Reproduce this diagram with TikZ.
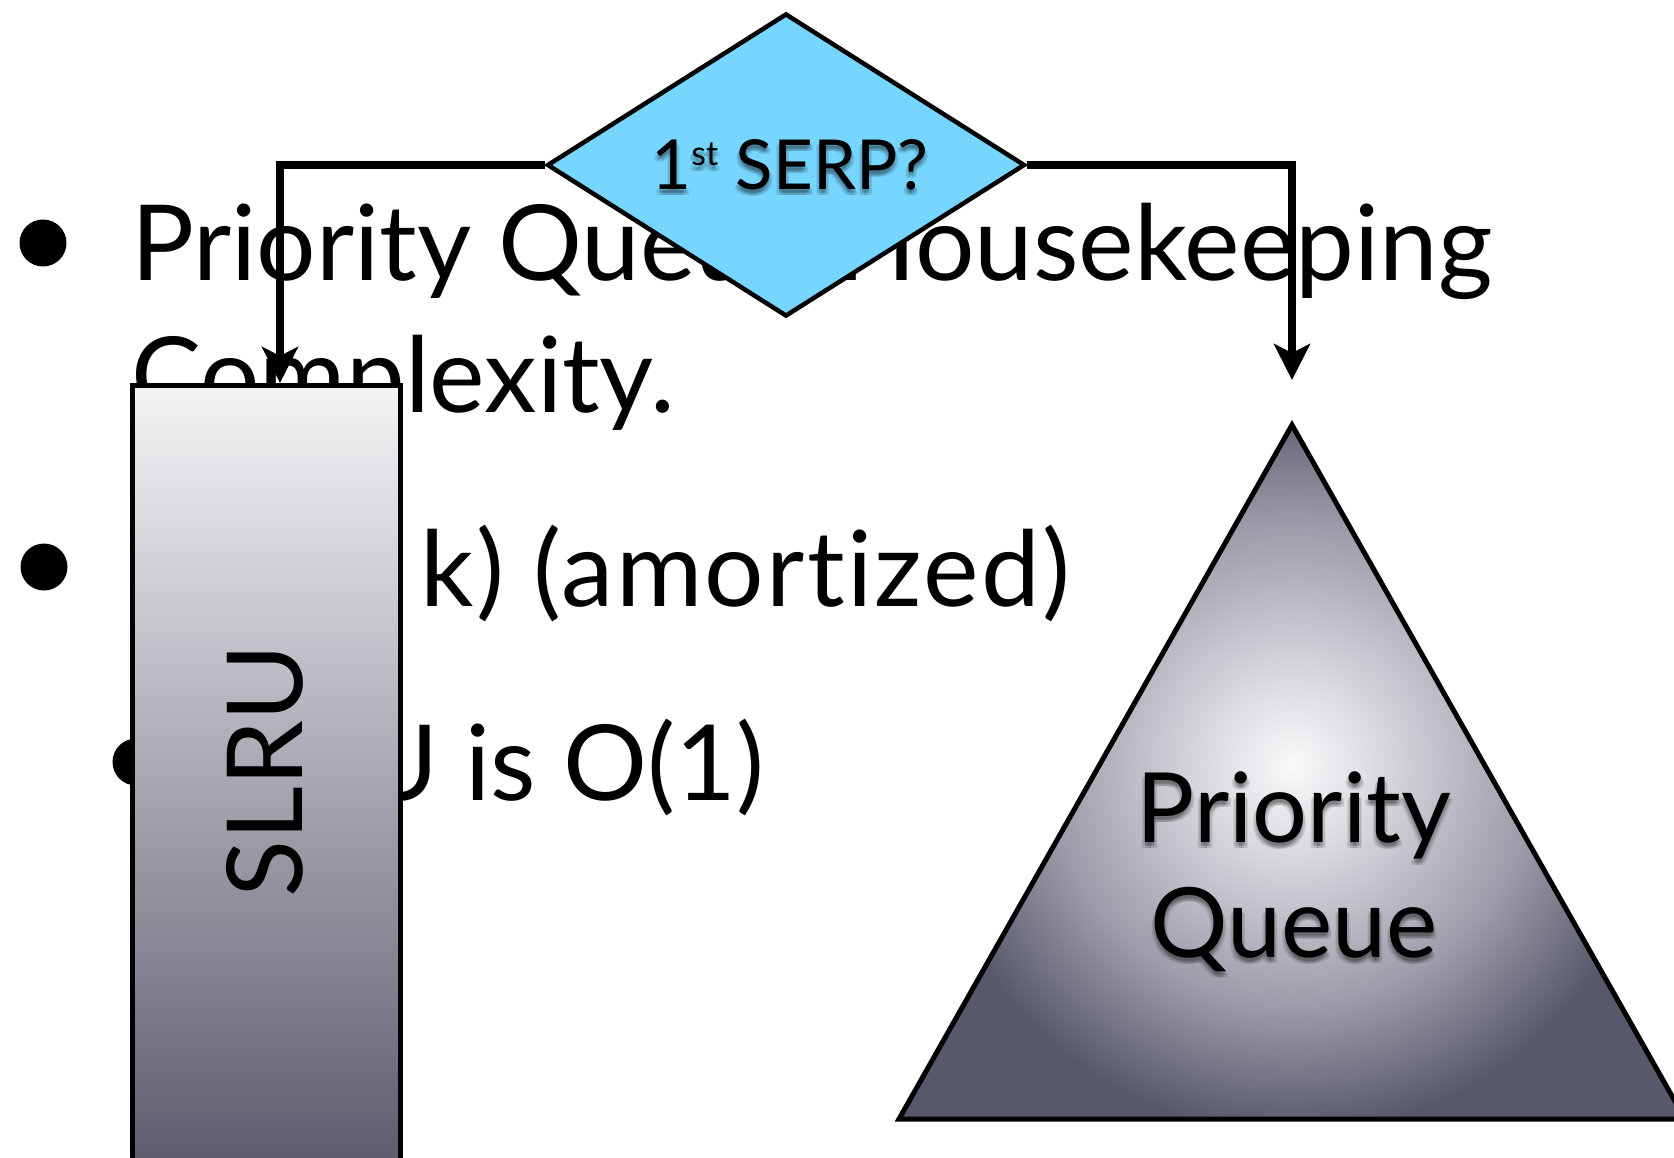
\documentclass[tikz,border=0pt]{standalone}
\usepackage{fontspec}
\setmainfont{Lato}[Ligatures=NoCommon]
\usetikzlibrary{arrows.meta,shapes.geometric,calc}
\definecolor{serpblue}{HTML}{76D6FF}
\definecolor{slrutop}{HTML}{F4F4F6}
\definecolor{slrubot}{HTML}{5A5A6D}
\definecolor{pqlight}{HTML}{FAFAFC}
\definecolor{pqmida}{HTML}{C6C6CE}
\definecolor{pqmidb}{HTML}{9C9CAA}
\definecolor{pqdark}{HTML}{58586D}
\pgfdeclareradialshading{pqshade}{\pgfpoint{0bp}{0bp}}{color(0bp)=(pqlight); color(8.5bp)=(pqmida); color(15bp)=(pqmidb); color(23bp)=(pqdark); color(50bp)=(pqdark)}
\newcommand\serptext{1\raisebox{24pt}{\fontsize{34}{34}\selectfont st} SERP?}
\begin{document}
\begin{tikzpicture}[x=1pt,y=-1pt,
  body/.style={inner sep=0pt, anchor=base west, font=\fontsize{105}{126}\selectfont},
  dot/.style={circle, fill=black, inner sep=0pt, minimum size=47pt},
  conn/.style={line width=8pt, line join=miter, -{Stealth[length=36pt,width=36pt,inset=9pt]}},
  serpdia/.style={diamond, aspect=1.58, draw=black, line width=4.5pt, fill=serpblue, inner sep=0pt, minimum width=478pt, minimum height=303pt},
  serpfont/.style={inner sep=0pt, anchor=base, font=\fontsize{69}{80}\selectfont},
  slrubox/.style={draw=black, line width=5pt, top color=slrutop, bottom color=slrubot, minimum width=268pt, minimum height=790pt, inner sep=0pt, anchor=north},
  slrulabel/.style={inner sep=0pt, rotate=90, font=\fontsize{105}{126}\selectfont},
  pqfont/.style={inner sep=0pt, anchor=base, font=\fontsize{97}{115}\selectfont},
  shadow/.style={text=black, opacity=0.09}]
\useasboundingbox (0,0) rectangle (1674,1158);
\clip (0,0) rectangle (1674,1158);
\fill[white] (0,0) rectangle (1674,1158);

% bullets and body text
\node[dot] (b1) at (43,243) {};
\node[dot] (b2) at (44,567) {};
\node[dot] (b3) at (136,762) {};
\node[body] (t1) at (131,281) {Priority Queue Housekeeping};
\node[body] (t2) at (131,413) {Complexity.};
\node[body] (t3) at (131,606) {\addfontfeature{LetterSpace=2.2}O(log k) (amortized)};
\node[body] (t4) at (185,800) {SLRU is O(1)};

% decision diamond
\node[serpdia] (dia) at (786,165) {};
\foreach \dx/\dy [count=\i] in {0/3, 2/4, -2/4, 0/6, 3/6, -3/6}
  \node[serpfont, shadow] (serpsh\i) at ({790+\dx},{190+\dy}) {\serptext};
\node[serpfont] (serp) at (790,190) {\serptext};

% SLRU box
\node[slrubox] (slru) at (266,383) {};
\node[slrulabel] (slrut) at (265,771) {SLRU};

% priority queue triangle
\coordinate (apex) at (1292,425);
\coordinate (bl) at (899,1119);
\coordinate (br) at (1685,1119);
\begin{scope}
  \clip (apex) -- (bl) -- (br) -- cycle;
  \fill[pqdark] (apex) -- (bl) -- (br) -- cycle;
  \shade[shading=pqshade] (1292,765) circle (400);
\end{scope}
\draw[line width=5pt, line join=miter] (apex) -- (bl) -- (br) -- cycle;
\foreach \dx/\dy [count=\i] in {0/3, 2/4, -2/4, 0/6, 3/6, -3/6} {
  \node[pqfont, shadow] (pqsha\i) at ({1294+\dx},{842+\dy}) {Priority};
  \node[pqfont, shadow] (pqshb\i) at ({1294+\dx},{957+\dy}) {Queue};
}
\node[pqfont] (pq1) at (1294,842) {Priority};
\node[pqfont] (pq2) at (1294,957) {Queue};

% connectors
\draw[conn] (dia.west) -| ([xshift=14pt]slru.north);
\draw[conn] (dia.east) -| ([yshift=45pt]apex);
\end{tikzpicture}
\end{document}
